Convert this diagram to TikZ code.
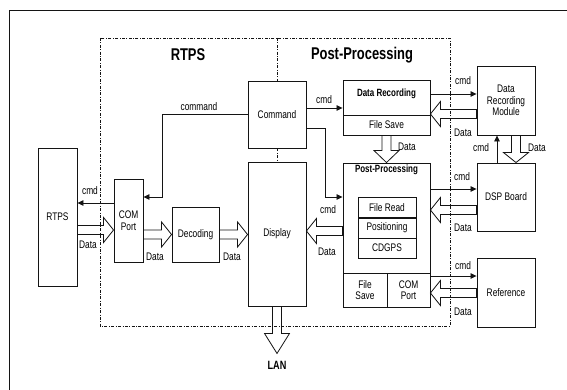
\documentclass[tikz,border=0pt]{standalone}
\usepackage{fontspec}
\setmainfont[FakeStretch=0.76]{Liberation Sans}
\usepackage{tikz}
\usetikzlibrary{arrows.meta, positioning, calc}
\definecolor{mydark}{RGB}{20,20,20}
\tikzset{
  block/.style={rectangle, draw=mydark, fill=white, inner sep=0pt,
    align=center, font=\fontsize{11}{11.5}\selectfont, line width=0.9pt},
  arrow/.style={-{Triangle[length=6pt,width=5.5pt]}, line width=0.8pt, color=mydark},
  fat/.style={draw=mydark, line width=0.8pt, line join=miter},
  lbl/.style={font=\fontsize{11}{11.5}\selectfont, inner sep=0pt},
  region/.style={draw=mydark, line width=0.6pt,
    dash pattern=on 3pt off 1.5pt on 0.8pt off 1.5pt},
  title/.style={font=\fontsize{17}{18}\selectfont\bfseries, inner sep=0pt},
  subtitle/.style={font=\fontsize{10.5}{11}\selectfont\bfseries, inner sep=0pt}
}
% hollow block arrow: [head length]{from}{to}
\newcommand{\fatarrow}[3][10]{%
  \draw[fat] let \p1=(#2), \p2=(#3), \n1={atan2(\y2-\y1,\x2-\x1)} in
    ($(\p1)+(\n1+90:4.5pt)$) -- ($(\p2)+(\n1+180:#1pt)+(\n1+90:4.5pt)$)
    -- ($(\p2)+(\n1+180:#1pt)+(\n1+90:12.5pt)$) -- (\p2)
    -- ($(\p2)+(\n1+180:#1pt)+(\n1-90:12.5pt)$)
    -- ($(\p2)+(\n1+180:#1pt)+(\n1-90:4.5pt)$)
    -- ($(\p1)+(\n1-90:4.5pt)$) -- cycle;}

\begin{document}
\begin{tikzpicture}[x=1pt, y=-1pt]
  \useasboundingbox (0,0) rectangle (567,390);
  % Outer frame
  \draw[line width=0.9pt, mydark] (567,10) -- (9,10) -- (9,390);

  % Dotted region and titles
  \draw[region] (100,38) rectangle (450,326);
  \node[title] (rtpstitle) at (188,55) {RTPS};
  \node[title] (pptitle) at (362,55) {Post-Processing};

  % Blocks
  \node[block, minimum width=39, minimum height=138] (rtps) at (57.5,217) {RTPS};
  \node[block, minimum width=29, minimum height=83] (com) at (128.5,220.5) {COM\\Port};
  \node[block, minimum width=47, minimum height=55] (dec) at (195.5,234.5) {Decoding};
  \node[block, minimum width=58, minimum height=67] (cmdbox) at (277,114.5) {Command};
  \node[block, minimum width=58, minimum height=144] (disp) at (277,234) {Display};

  \draw[region] (277,38) -- (cmdbox.north);
  \draw[region] (cmdbox.south) -- (disp.north);

  % Data Recording
  \node[block, minimum width=87, minimum height=55] (drec) at (386.5,107.5) {};
  \node[subtitle] (drectitle) at (386.5,94) {Data Recording};
  \node[block, minimum width=87, minimum height=20] (dsave) at (386.5,125) {File Save};

  % Post-Processing
  \node[block, minimum width=87, minimum height=144] (pproc) at (386.5,235) {};
  \node[subtitle] (pptitle2) at (386.5,170) {Post-Processing};
  \node[block, minimum width=58, minimum height=20.5] (fread) at (387,207.5) {File Read};
  \node[block, minimum width=58, minimum height=20] (posi) at (387,228) {Positioning};
  \node[block, minimum width=58, minimum height=20] (cdgps) at (387,248) {CDGPS};
  \node[block, minimum width=44, minimum height=34] (psave) at (365,290) {File\\Save};
  \node[block, minimum width=43, minimum height=34] (pcom) at (408.5,290) {COM\\Port};

  % Outside units
  \node[block, minimum width=58, minimum height=69] (drm) at (506,100.5) {Data\\Recording\\Module};
  \node[block, minimum width=58, minimum height=68] (dsp) at (506,197) {DSP Board};
  \node[block, minimum width=58, minimum height=69] (ref) at (506,292.5) {Reference};

  % Command lines
  \draw[arrow] (cmdbox.west) -- ++(-85,0) |- ([yshift=23.5pt]com.east);
  \node[lbl] (lcommand) at (199,107) {command};
  \draw[arrow] ([yshift=17.5pt]com.west) -- ([yshift=14pt]rtps.east);
  \node[lbl] (lcmd1) at (90,191) {cmd};
  \draw[arrow] ([yshift=6.5pt]cmdbox.east) -- ([yshift=-0.5pt]drec.west);
  \node[lbl] (lcmd2) at (324,100) {cmd};
  \draw[arrow] ([yshift=-13.5pt]cmdbox.east) -- ++(19,0) |- ([yshift=38pt]pproc.west);
  \node[lbl] (lcmd3) at (328,210) {cmd};
  \draw[arrow] ([yshift=13.5pt]drec.east) -- ([yshift=6.5pt]drm.west);
  \node[lbl] (lcmd4) at (463,81) {cmd};
  \draw[arrow] ([xshift=-9pt]dsp.north) -- ([xshift=-9pt]drm.south);
  \node[lbl] (lcmd5) at (481,148) {cmd};
  \draw[arrow] ([yshift=46pt]pproc.east) -- ([yshift=8pt]dsp.west);
  \node[lbl] (lcmd6) at (462,177) {cmd};
  \draw[arrow] ([yshift=-41pt]pproc.east) -- ([yshift=16.5pt]ref.west);
  \node[lbl] (lcmd7) at (463,266) {cmd};

  % Data flows
  \fatarrow{[yshift=-13pt]rtps.east}{[yshift=-9.5pt]com.west}
  \node[lbl] (ldata1) at (88,245) {Data};
  \fatarrow{[yshift=-14pt]com.east}{dec.west}
  \node[lbl] (ldata2) at (155,257) {Data};
  \fatarrow{dec.east}{[yshift=-0.5pt]disp.east -| disp.west}
  \node[lbl] (ldata3) at (232,257) {Data};
  \fatarrow{[yshift=4pt]pproc.west}{[yshift=3pt]disp.east}
  \node[lbl] (ldata4) at (327,252) {Data};
  \fatarrow[12]{drec.south}{pproc.north}
  \node[lbl] (ldata5) at (407,147) {Data};
  \fatarrow{[yshift=-13.5pt]drm.west}{[yshift=-6.5pt]drec.east}
  \node[lbl] (ldata6) at (463,133) {Data};
  \fatarrow{[xshift=10pt]drm.south}{[xshift=10pt]dsp.north}
  \node[lbl] (ldata7) at (537,148) {Data};
  \fatarrow{[yshift=-13pt]dsp.west}{[yshift=25pt]pproc.east}
  \node[lbl] (ldata8) at (463,228) {Data};
  \fatarrow{[yshift=-0.5pt]ref.west}{[yshift=-58pt]pproc.east}
  \node[lbl] (ldata9) at (463,312) {Data};

  % Output to LAN
  \coordinate (lanend) at ([yshift=-47pt]disp.south);
  \fatarrow[20]{disp.south}{lanend}
  \node[font=\fontsize{12}{13}\selectfont\bfseries, below=8pt of lanend, inner sep=0pt] (lan) {LAN};
\end{tikzpicture}
\end{document}
